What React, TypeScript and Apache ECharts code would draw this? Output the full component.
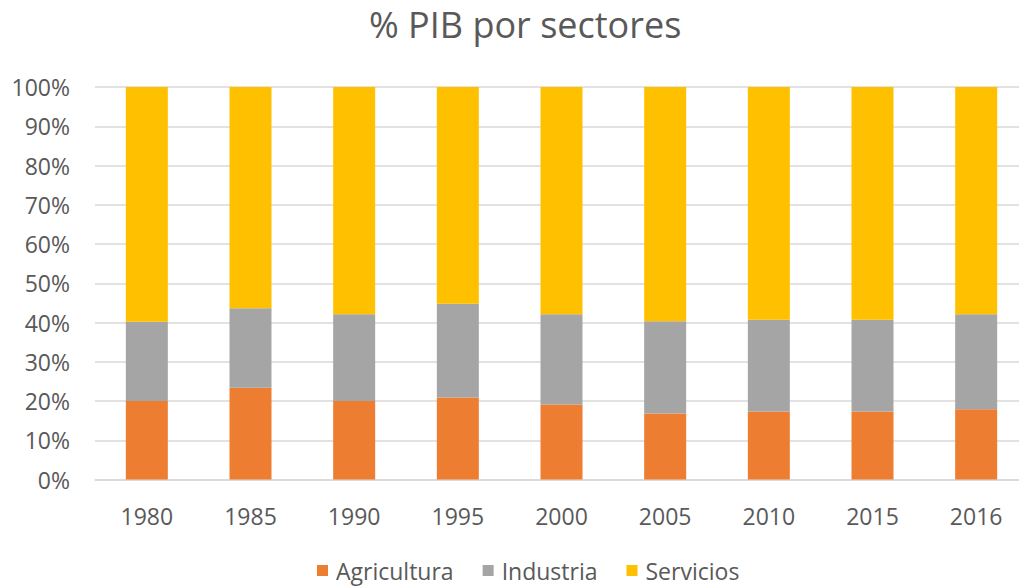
import React, { useEffect, useRef } from "react";
import * as echarts from "echarts";

const years = ["1980", "1985", "1990", "1995", "2000", "2005", "2010", "2015", "2016"];
const agricultura = [20.0, 23.4, 20.0, 20.9, 19.1, 16.8, 17.3, 17.3, 17.9];
const industria = [20.2, 20.2, 22.1, 23.9, 23.0, 23.5, 23.4, 23.4, 24.2];
const servicios = [59.8, 56.4, 57.9, 55.2, 57.9, 59.7, 59.3, 59.3, 57.9];

const FONT = "'Open Sans', sans-serif";

export default function App() {
  const ref = useRef<HTMLDivElement>(null);
  useEffect(() => {
    if (!ref.current) return;
    const chart = echarts.init(ref.current, undefined, { renderer: "svg" });
    const mk = (name: string, data: number[], color: string) => ({
      name,
      type: "bar",
      stack: "total",
      data,
      barWidth: 42,
      itemStyle: { color },
    });
    chart.setOption({
      animation: false,
      backgroundColor: "#ffffff",
      title: {
        text: "% PIB por sectores",
        left: 364,
        top: 1,
        textStyle: { fontFamily: FONT, fontSize: 36, fontWeight: "normal", color: "#595959" },
      },
      legend: {
        bottom: 0,
        left: 312,
        itemWidth: 11,
        itemHeight: 11,
        itemGap: 29,
        icon: "rect",
        textStyle: { fontFamily: FONT, fontSize: 23, color: "#595959", padding: [0, 0, 0, 3] },
        data: ["Agricultura", "Industria", "Servicios"],
      },
      grid: { left: 95, top: 87, width: 933, bottom: 107.5, containLabel: false },
      xAxis: {
        type: "category",
        data: years,
        axisTick: { show: false },
        axisLine: { lineStyle: { color: "#d9d9d9", width: 1.5 } },
        axisLabel: { fontFamily: FONT, fontSize: 23, color: "#595959", margin: 25 },
      },
      yAxis: {
        type: "value",
        min: 0,
        max: 100,
        interval: 10,
        axisLabel: { fontFamily: FONT, fontSize: 23, color: "#595959", margin: 25, formatter: "{value}%" },
        splitLine: { lineStyle: { color: "#d9d9d9", width: 1.5 } },
        axisLine: { show: false },
        axisTick: { show: false },
      },
      series: [
        mk("Agricultura", agricultura, "#ED7D31"),
        mk("Industria", industria, "#A5A5A5"),
        mk("Servicios", servicios, "#FFC000"),
      ],
    });
    return () => chart.dispose();
  }, []);
  return (
    <div style={{ position: "fixed", left: 0, top: 0, width: 1019, height: 587, overflow: "hidden" }}>
      <div ref={ref} style={{ width: 1030, height: 587 }} />
    </div>
  );
}
